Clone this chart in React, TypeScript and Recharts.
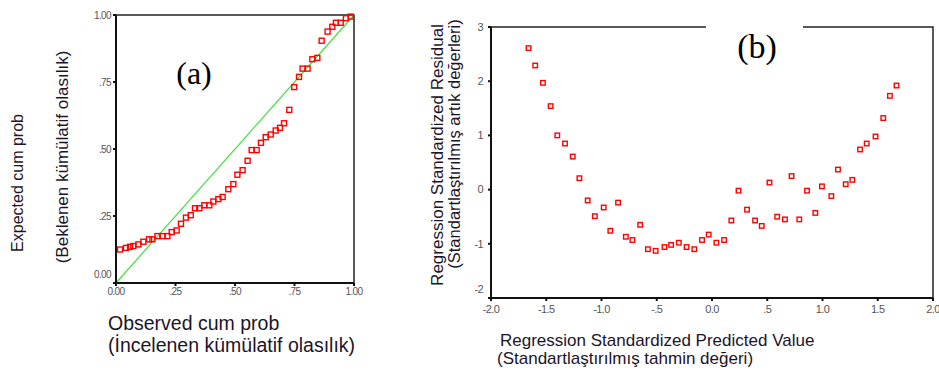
import { ScatterChart, Scatter, XAxis, YAxis, ReferenceLine, ReferenceArea } from 'recharts'

// (a) normal P-P plot
const observedProb = [
  0.017, 0.042, 0.059, 0.073, 0.094, 0.115, 0.139, 0.153, 0.174, 0.196,
  0.216, 0.234, 0.255, 0.273, 0.294, 0.314, 0.332, 0.35, 0.371, 0.392,
  0.409, 0.43, 0.448, 0.472, 0.493, 0.51, 0.532, 0.553, 0.57, 0.591,
  0.609, 0.629, 0.65, 0.671, 0.689, 0.706, 0.728, 0.749, 0.769, 0.784,
  0.805, 0.825, 0.846, 0.864, 0.889, 0.909, 0.924, 0.944, 0.966, 0.986,
]
const expectedProb = [
  0.125, 0.131, 0.135, 0.138, 0.144, 0.154, 0.163, 0.163, 0.175, 0.175,
  0.175, 0.19, 0.196, 0.221, 0.244, 0.253, 0.279, 0.279, 0.29, 0.29,
  0.304, 0.313, 0.321, 0.35, 0.369, 0.404, 0.421, 0.456, 0.496, 0.496,
  0.523, 0.544, 0.554, 0.569, 0.579, 0.596, 0.646, 0.731, 0.769, 0.8,
  0.8, 0.835, 0.84, 0.904, 0.938, 0.956, 0.971, 0.971, 0.988, 0.994,
]
const probTicks = [0, 0.25, 0.5, 0.75, 1]
const probTickLabels = ['0.00', '.25', '.50', '.75', '1.00']

// (b) residuals vs predicted
const predictedValue = [
  -1.66, -1.6, -1.53, -1.46, -1.4, -1.33, -1.26, -1.2, -1.125, -1.06,
  -0.98, -0.92, -0.85, -0.78, -0.72, -0.65, -0.58, -0.51, -0.43, -0.37,
  -0.3, -0.23, -0.16, -0.09, -0.03, 0.04, 0.11, 0.175, 0.24, 0.317,
  0.39, 0.45, 0.52, 0.59, 0.66, 0.72, 0.79, 0.86, 0.935, 0.995,
  1.08, 1.14, 1.21, 1.27, 1.34, 1.4, 1.48, 1.55, 1.61, 1.67,
]
const residualValue = [
  2.61, 2.29, 1.97, 1.54, 1.0, 0.85, 0.61, 0.21, -0.2, -0.49,
  -0.33, -0.76, -0.24, -0.87, -0.93, -0.65, -1.1, -1.13, -1.06, -1.02,
  -0.98, -1.06, -1.1, -0.93, -0.83, -0.98, -0.93, -0.57, -0.02, -0.37,
  -0.57, -0.67, 0.13, -0.5, -0.55, 0.25, -0.55, -0.02, -0.43, 0.06,
  -0.12, 0.37, 0.1, 0.18, 0.74, 0.85, 0.98, 1.32, 1.73, 1.92,
]
const residualTicks = [-2, -1, 0, 1, 2, 3]
const predictedTicks = [-2, -1.5, -1, -0.5, 0, 0.5, 1, 1.5, 2]
const predictedTickLabels = ['-2.0', '-1.5', '-1.0', '-.5', '0.0', '.5', '1.0', '1.5', '2.0']

const ppData = observedProb.map((x, i) => ({ x, y: expectedProb[i] }))
const residData = predictedValue.map((x, i) => ({ x, y: residualValue[i] }))

const SANS = '"Liberation Sans", Arial, sans-serif'
const SERIF = '"Liberation Serif", "Times New Roman", serif'
const TICK_COLOR = '#555'
const TITLE_COLOR = '#1d1428'

const square = (size: number) => (props: any) => {
  const { cx, cy } = props
  return (
    <rect x={cx - size / 2} y={cy - size / 2} width={size} height={size}
      fill="none" stroke="#ff0000" strokeWidth={1.4} />
  )
}

// y tick, the bottom label is lifted off the x axis like in the SPSS output
const yTick = (ticks: number[], labels: string[], fontSize: number) => (props: any) => {
  const { x, y, payload } = props
  const i = ticks.indexOf(payload.value)
  return (
    <text x={x} y={y + (i === 0 ? -9 : 0)} dy={fontSize * 0.35} textAnchor="end"
      fontSize={fontSize} fill={TICK_COLOR} fontFamily={SANS} letterSpacing={-0.6}>
      {labels[i]}
    </text>
  )
}

const xTick = (ticks: number[], labels: string[], fontSize: number) => (props: any) => {
  const { x, y, payload } = props
  const i = ticks.indexOf(payload.value)
  return (
    <text x={x} y={y} dy={fontSize * 0.72} textAnchor="middle"
      fontSize={fontSize} fill={TICK_COLOR} fontFamily={SANS} letterSpacing={-0.6}>
      {labels[i]}
    </text>
  )
}

const axisLine = { stroke: '#111', strokeWidth: 2 }
const tickLine = { stroke: '#111', strokeWidth: 2 }

const App = () => (
  <div style={{ position: 'absolute', left: 0, top: 0, width: 939, height: 376, background: '#fff' }}>
    <div style={{ position: 'absolute', left: 0, top: 0 }}>
      <ScatterChart width={380} height={376} margin={{ top: 15, right: 26, bottom: 63, left: 76 }}>
        <XAxis type="number" dataKey="x" domain={[0, 1]} ticks={probTicks} height={30}
          axisLine={axisLine} tickLine={tickLine} tickSize={3} tickMargin={2}
          tick={xTick(probTicks, probTickLabels, 10)} />
        <YAxis type="number" dataKey="y" domain={[0, 1]} ticks={probTicks} width={40}
          axisLine={axisLine} tickLine={tickLine} tickSize={3} tickMargin={2}
          tick={yTick(probTicks, probTickLabels, 10)} />
        <ReferenceArea x1={0} x2={1} y1={0} y2={1} fill="none" stroke="#222" strokeWidth={1.5} ifOverflow="visible" />
        <ReferenceLine segment={[{ x: 0, y: 0 }, { x: 1, y: 1 }]} stroke="#3ee03e" strokeWidth={1.2} />
        <Scatter data={ppData} shape={square(5)} isAnimationActive={false} />
      </ScatterChart>
    </div>
    <div style={{ position: 'absolute', left: 400, top: 0 }}>
      <ScatterChart width={539} height={376} margin={{ top: 27, right: 6, bottom: 48, left: 61 }}>
        <XAxis type="number" dataKey="x" domain={[-2, 2]} ticks={predictedTicks} height={30}
          axisLine={axisLine} tickLine={tickLine} tickSize={3} tickMargin={4}
          tick={xTick(predictedTicks, predictedTickLabels, 11)} />
        <YAxis type="number" dataKey="y" domain={[-2, 3]} ticks={residualTicks} width={30}
          axisLine={axisLine} tickLine={tickLine} tickSize={3} tickMargin={5}
          tick={yTick(residualTicks, residualTicks.map(String), 11)} />
        <ReferenceArea x1={-2} x2={2} y1={-2} y2={3} fill="none" stroke="#222" strokeWidth={1.5} ifOverflow="visible" />
        <Scatter data={residData} shape={square(4.5)} isAnimationActive={false} />
      </ScatterChart>
    </div>
    <svg width={939} height={376} style={{ position: 'absolute', left: 0, top: 0, pointerEvents: 'none' }}>
      <g fontFamily={SANS} fill={TITLE_COLOR}>
        <text x={23} y={183} fontSize={16} textAnchor="middle" transform="rotate(-90 23 183)">Expected cum prob</text>
        <text x={68} y={157} fontSize={17} textAnchor="middle" transform="rotate(-90 68 157)">(Beklenen kümülatif olasılık)</text>
        <text x={108} y={330} fontSize={19.5}>Observed cum prob</text>
        <text x={108} y={352} fontSize={19.5}>(İncelenen kümülatif olasılık)</text>
        <text x={443} y={155} fontSize={17} textAnchor="middle" transform="rotate(-90 443 155)">Regression Standardized Residual</text>
        <text x={460} y={144} fontSize={16.5} textAnchor="middle" transform="rotate(-90 460 144)">(Standartlaştırılmış artık değerleri)</text>
        <text x={500} y={346} fontSize={17}>Regression Standardized Predicted Value</text>
        <text x={497} y={364} fontSize={17}>(Standartlaştırılmış tahmin değeri)</text>
      </g>
      <text x={194} y={84} fontSize={32} textAnchor="middle" fontFamily={SERIF} fill="#000">(a)</text>
      <rect x={706} y={18} width={97} height={18} fill="#fff" />
      <text x={757} y={58} fontSize={34} textAnchor="middle" fontFamily={SERIF} fill="#000">(b)</text>
    </svg>
  </div>
)

export default App
